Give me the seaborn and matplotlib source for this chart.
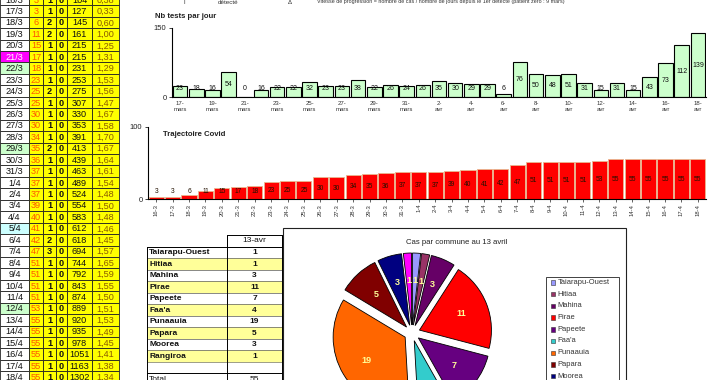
import matplotlib
matplotlib.use("Agg")
import matplotlib.pyplot as plt
import seaborn as sns
import pandas as pd
from matplotlib.patches import Rectangle

sns.set_theme(style="white")
plt.rcParams["font.family"] = ["Liberation Sans", "DejaVu Sans"]

# ---------------- data ----------------
dates = ["16/3", "17/3", "18/3", "19/3", "20/3", "21/3", "22/3", "23/3", "24/3", "25/3",
         "26/3", "27/3", "28/3", "29/3", "30/3", "31/3", "1/4", "2/4", "3/4", "4/4",
         "5/4", "6/4", "7/4", "8/4", "9/4", "10/4", "11/4", "12/4", "13/4", "14/4",
         "15/4", "16/4", "17/4", "18/4"]
cases = [3, 3, 6, 11, 15, 17, 18, 23, 25, 25, 30, 30, 34, 35, 36, 37, 37, 37, 39, 40,
         41, 42, 47, 51, 51, 51, 51, 53, 55, 55, 55, 55, 55, 55]
col_hosp = [1, 1, 2, 2, 1, 1, 1, 1, 2, 1, 1, 1, 1, 2, 1, 1, 1, 1, 1, 1,
            1, 2, 3, 1, 1, 1, 1, 1, 1, 1, 1, 1, 1, 1]
col_deaths = [0, 0, 0, 0, 0, 0, 0, 0, 0, 0, 0, 0, 0, 0, 0, 0, 0, 0, 0, 0,
              0, 0, 0, 0, 0, 0, 0, 0, 0, 0, 0, 0, 0, 0]
tests_cum = [104, 127, 145, 161, 215, 215, 231, 253, 275, 307, 330, 353, 391, 413, 439,
             463, 489, 524, 554, 583, 612, 618, 694, 744, 792, 843, 874, 889, 920, 935,
             978, 1051, 1163, 1302]
ratio = ["0,38", "0,33", "0,60", "1,00", "1,25", "1,31", "1,29", "1,53", "1,56", "1,47",
         "1,67", "1,58", "1,70", "1,67", "1,64", "1,61", "1,54", "1,48", "1,50", "1,48",
         "1,46", "1,45", "1,57", "1,65", "1,59", "1,55", "1,50", "1,51", "1,53", "1,49",
         "1,45", "1,41", "1,38", "1,34"]
date_colors = {"21/3": "#FF00FF", "22/3": "#CCFFCC", "29/3": "#CCFFCC",
               "5/4": "#CCFFFF", "12/4": "#CCFFCC"}

test_dates = ["17-mars", "18-mars", "19-mars", "20-mars", "21-mars", "22-mars", "23-mars",
              "24-mars", "25-mars", "26-mars", "27-mars", "28-mars", "29-mars", "30-mars",
              "31-mars", "1-avr", "2-avr", "3-avr", "4-avr", "5-avr", "6-avr", "7-avr",
              "8-avr", "9-avr", "10-avr", "11-avr", "12-avr", "13-avr", "14-avr", "15-avr",
              "16-avr", "17-avr", "18-avr"]
tests_day = [23, 18, 16, 54, 0, 16, 22, 22, 32, 23, 23, 38, 22, 26, 24, 26, 35, 30, 29, 29,
             6, 76, 50, 48, 51, 31, 15, 31, 15, 43, 73, 112, 139]

traj_labels = ["16-3", "17-3", "18-3", "19-3", "20-3", "21-3", "22-3", "23-3", "24-3",
               "25-3", "26-3", "27-3", "28-3", "29-3", "30-3", "31-3", "1-4", "2-4", "3-4",
               "4-4", "5-4", "6-4", "7-4", "8-4", "9-4", "10-4", "11-4", "12-4", "13-4",
               "14-4", "15-4", "16-4", "17-4", "18-4"]
traj_values = cases

communes = ["Taiarapu-Ouest", "Hitiaa", "Mahina", "Pirae", "Papeete", "Faa'a",
            "Punaauia", "Papara", "Moorea", "Rangiroa"]
commune_cases = [1, 1, 3, 11, 7, 4, 19, 5, 3, 1]
commune_colors = ["#9999FF", "#993366", "#660066", "#FF0000", "#660080", "#33CCCC",
                  "#FF6600", "#800000", "#000080", "#FF00FF"]
total_cases = 55

W, H = 720, 380


def rect(x0, y0, x1, y1):
    return [x0 / W, 1 - y1 / H, (x1 - x0) / W, (y1 - y0) / H]


fig = plt.figure(figsize=(7.2, 3.8), dpi=100)
fig.patch.set_facecolor("white")

# overlay in pixel coords
ax0 = fig.add_axes([0, 0, 1, 1])
ax0.set_xlim(0, W)
ax0.set_ylim(H, 0)
ax0.axis("off")

# ---------------- left table ----------------
cx = [0, 29, 43, 56, 67, 92, 119]
rh = 11.44
for k, d in enumerate(dates):
    yc = -0.44 + rh * k
    y0 = yc - rh / 2
    fills = [date_colors.get(d, "white")] + ["#FFFF00"] * 5
    for j in range(6):
        ax0.add_patch(Rectangle((cx[j], y0), cx[j + 1] - cx[j], rh, facecolor=fills[j],
                                edgecolor="#222222", lw=0.6))
    vals = [d, str(cases[k]), str(col_hosp[k]), str(col_deaths[k]), str(tests_cum[k]), ratio[k]]
    tcols = ["white" if d == "21/3" else "#111111", "#FF5500", "#111111", "#111111",
             "#111111", "#8A5A00"]
    for j in range(6):
        ax0.text((cx[j] + cx[j + 1]) / 2, yc + 0.5, vals[j], ha="center", va="center",
                 fontsize=6.6, color=tcols[j], fontweight="bold" if j in (2, 3) else "normal")

# ---------------- header text ----------------
ax0.text(183, 2, "|", fontsize=4.5, va="center", color="#333333")
ax0.text(218, 2, "détecté", fontsize=4.5, va="center", color="#333333")
ax0.text(288, 2, "Δ", fontsize=4.5, va="center", color="#333333")
ax0.text(317, 2, "Vitesse de progression = nombre de cas / nombre de jours depuis le 1er détecté (patient zéro : 9 mars)",
         fontsize=3.9, va="center", color="#333333")

# ---------------- tests per day chart ----------------
ax0.text(155, 17, "Nb tests par jour", fontsize=5.6, fontweight="bold", va="center", color="#222222")
ax1 = fig.add_axes(rect(172, 28, 706, 97))
df1 = pd.DataFrame({"date": test_dates, "tests": tests_day})
sns.barplot(data=df1, x="date", y="tests", ax=ax1, color="#CCFFCC", edgecolor="black",
            linewidth=0.8, saturation=1, width=0.9)
ax1.set_xlim(-0.5, len(test_dates) - 0.5)
ax1.set_ylim(0, 150)
ax1.set_yticks([0, 150])
ax1.set_ylabel("")
ax1.set_xlabel("")
ax1.set_facecolor("none")
for s in ["top", "right"]:
    ax1.spines[s].set_visible(False)
for s in ["left", "bottom"]:
    ax1.spines[s].set_color("black")
    ax1.spines[s].set_linewidth(0.8)
ax1.tick_params(axis="y", labelsize=5.5, length=2.5, width=0.6, left=True, pad=1.5, colors="#222222")
ticks_pos = list(range(0, len(test_dates), 2))
ax1.set_xticks(ticks_pos)
ax1.set_xticklabels([test_dates[i].replace("-", "-\n") for i in ticks_pos], fontsize=4.3,
                    color="#333333", linespacing=1.3)
ax1.tick_params(axis="x", length=0, pad=3)
for i, v in enumerate(tests_day):
    ax1.text(i, max(v / 2, 19), str(v), ha="center", va="center", fontsize=5, color="#111111")

# ---------------- trajectory chart ----------------
ax0.text(163, 134, "Trajectoire Covid", fontsize=5.6, fontweight="bold", va="center", color="#222222")
ax2 = fig.add_axes(rect(148, 127, 706, 199))
df2 = pd.DataFrame({"date": traj_labels, "cas": traj_values})
sns.barplot(data=df2, x="date", y="cas", ax=ax2, color="#FF0000", edgecolor="#E8B890",
            linewidth=0.6, saturation=1, width=0.92)
ax2.set_xlim(-0.5, len(traj_labels) - 0.5)
ax2.set_ylim(0, 100)
ax2.set_yticks([0, 100])
ax2.set_ylabel("")
ax2.set_xlabel("")
ax2.set_facecolor("none")
for s in ["top", "right"]:
    ax2.spines[s].set_visible(False)
for s in ["left", "bottom"]:
    ax2.spines[s].set_color("black")
    ax2.spines[s].set_linewidth(0.8)
ax2.tick_params(axis="y", labelsize=5.5, length=2.5, width=0.6, left=True, pad=1.5, colors="#222222")
ax2.set_xticks(range(len(traj_labels)))
ax2.set_xticklabels(traj_labels, rotation=90, fontsize=4.2, color="#333333")
ax2.tick_params(axis="x", length=2, width=0.5, bottom=True, pad=1.5)
for i, v in enumerate(traj_values):
    ax2.text(i, max(v / 2, 11), str(v), ha="center", va="center", fontsize=4.8, color="#221100")

# ---------------- bottom table ----------------
brh = 11.48
ax0.add_patch(Rectangle((227, 235), 55, 11.5, facecolor="white", edgecolor="black", lw=0.7))
ax0.text(254.5, 240.8, "13-avr", ha="center", va="center", fontsize=6, color="#111111")
for k in range(12):
    yc = 252.7 + brh * k
    y0 = yc - brh / 2
    if k < len(communes):
        fc = "#FFFF99" if k % 2 == 1 else "white"
        ax0.add_patch(Rectangle((147, y0), 80, brh, facecolor=fc, edgecolor="#555555", lw=0.4))
        ax0.add_patch(Rectangle((227, y0), 55, brh, facecolor=fc, edgecolor="#555555", lw=0.4))
        ax0.text(149, yc + 0.3, communes[k], ha="left", va="center", fontsize=6,
                 fontweight="bold", color="#111111")
        ax0.text(254.5, yc + 0.3, str(commune_cases[k]), ha="center", va="center", fontsize=6,
                 fontweight="bold", color="#111111")
    elif k == 11:
        ax0.text(149, yc + 0.3, "Total", ha="left", va="center", fontsize=6, color="#111111")
        ax0.text(254.5, yc + 0.3, str(total_cases), ha="center", va="center", fontsize=6,
                 color="#111111")
ax0.plot([147, 147], [247, 385], color="black", lw=0.7)
ax0.plot([227, 227], [235, 385], color="black", lw=0.7)
ax0.plot([282, 282], [235, 385], color="black", lw=0.7)
ax0.plot([147, 282], [247, 247], color="black", lw=0.7)
ax0.plot([147, 282], [372.6, 372.6], color="black", lw=0.7)

# ---------------- pie box + legend ----------------
ax0.add_patch(Rectangle((283, 228), 343, 170, facecolor="white", edgecolor="#222222", lw=0.8))
ax0.text(457, 242, "Cas par commune au 13 avril", ha="center", va="center", fontsize=5.6,
         color="#222222")
ax0.add_patch(Rectangle((546, 277), 73, 120, facecolor="white", edgecolor="#222222", lw=0.6))
for i, (nm, c) in enumerate(zip(communes, commune_colors)):
    yy = 282.5 + 11.7 * i
    ax0.add_patch(Rectangle((550.5, yy - 2.2), 4.4, 4.4, facecolor=c, edgecolor="#333333", lw=0.4))
    ax0.text(557.5, yy, nm, ha="left", va="center", fontsize=5.4, color="#333333")

ax3 = fig.add_axes(rect(312, 233, 512, 433))
wedges, texts = ax3.pie(commune_cases, colors=commune_colors, startangle=90, counterclock=False,
                        explode=[0.1] * len(commune_cases), radius=0.9,
                        labels=[str(v) for v in commune_cases], labeldistance=0.62,
                        wedgeprops={"edgecolor": "black", "linewidth": 0.6},
                        textprops={"fontsize": 6.5, "fontweight": "bold", "color": "#FFFF99",
                                   "ha": "center", "va": "center"})
ax3.set_xlim(-1.25, 1.25)
ax3.set_ylim(-1.25, 1.25)
ax3.set_aspect("equal")
ax3.axis("off")

fig.savefig("out.png", dpi=100, facecolor="white")
